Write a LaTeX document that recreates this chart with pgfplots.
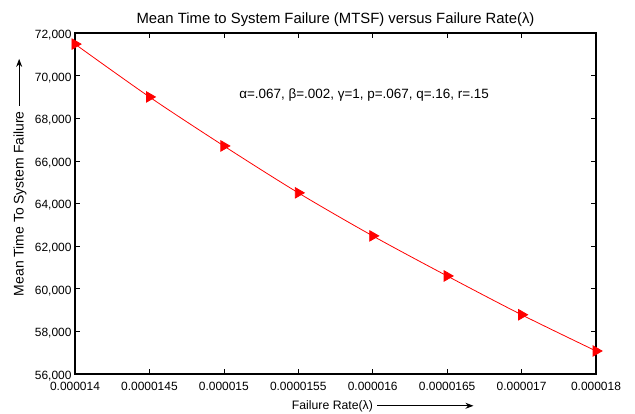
\documentclass[border=0pt]{standalone}
\usepackage{fontspec}
\setmainfont{Liberation Sans}
\usepackage{pgfplots}
\pgfplotsset{compat=1.18}
\usetikzlibrary{arrows.meta}

% failure-rate steps are plotted at positions 0..7, named by the tick labels
\pgfplotstableread{
step  mtsf
0     71480
1     69000
2     66700
3     64500
4     62480
5     60600
6     58780
7     57080
}\mtsfdata

\begin{document}
\begin{tikzpicture}
\begin{axis}[
  name=ax, at={(0,0)}, anchor=south west,
  scale only axis, width=521bp, height=341bp,
  xmin=0, xmax=7,
  ymin=56000, ymax=72000,
  xtick={0,...,7},
  xticklabels={0.000014,0.0000145,0.000015,0.0000155,0.000016,0.0000165,0.000017,0.000018},
  ytick={56000,58000,...,72000},
  scaled ticks=false,
  /pgf/number format/1000 sep={,},
  /pgf/number format/assume math mode=true,
  tick align=inside, major tick length=5bp,
  tick style={black, line width=0.6bp},
  axis line style={black, line width=1.3bp},
  ticklabel style={font=\fontsize{12}{14}\selectfont},
  xticklabel style={yshift=-5bp},
  yticklabel style={yshift=-2bp},
  xlabel={Failure Rate(λ)\hspace{4bp}\tikz[baseline=-0.6ex]\draw[line width=0.9bp,-{Stealth[length=8bp,width=6bp]}] (0,0)--(96bp,0);},
  xlabel style={font=\fontsize{12.3}{14}\selectfont, at={(rel axis cs:0.591,-0.0953)}, anchor=center},
  ylabel={Mean Time To System Failure\hspace{5bp}\tikz[baseline=-0.6ex]\draw[line width=0.9bp,-{Stealth[length=8bp,width=6bp]}] (0,0)--(47bp,0);},
  ylabel style={font=\fontsize{14}{16}\selectfont, at={(rel axis cs:-0.1056,0.577)}, anchor=center},
  clip=false,
]
\addplot[red, line width=0.8bp, smooth, mark=triangle*, mark size=6bp,
  mark options={rotate=-90, fill=red, draw=red}] table[x=step, y=mtsf] {\mtsfdata};
% chart heading above the frame
\node[font=\fontsize{14.9}{17}\selectfont, anchor=base] at (rel axis cs:0.5,1.0264)
  {Mean Time to System Failure (MTSF) versus Failure Rate(λ)};
\node[font=\fontsize{13.5}{15}\selectfont] at (rel axis cs:0.555,0.818)
  {α=.067, β=.002, γ=1, p=.067, q=.16, r=.15};
\end{axis}
\pgfresetboundingbox
\path (-75bp,-40bp) rectangle (560bp,374bp);
\end{tikzpicture}
\end{document}
